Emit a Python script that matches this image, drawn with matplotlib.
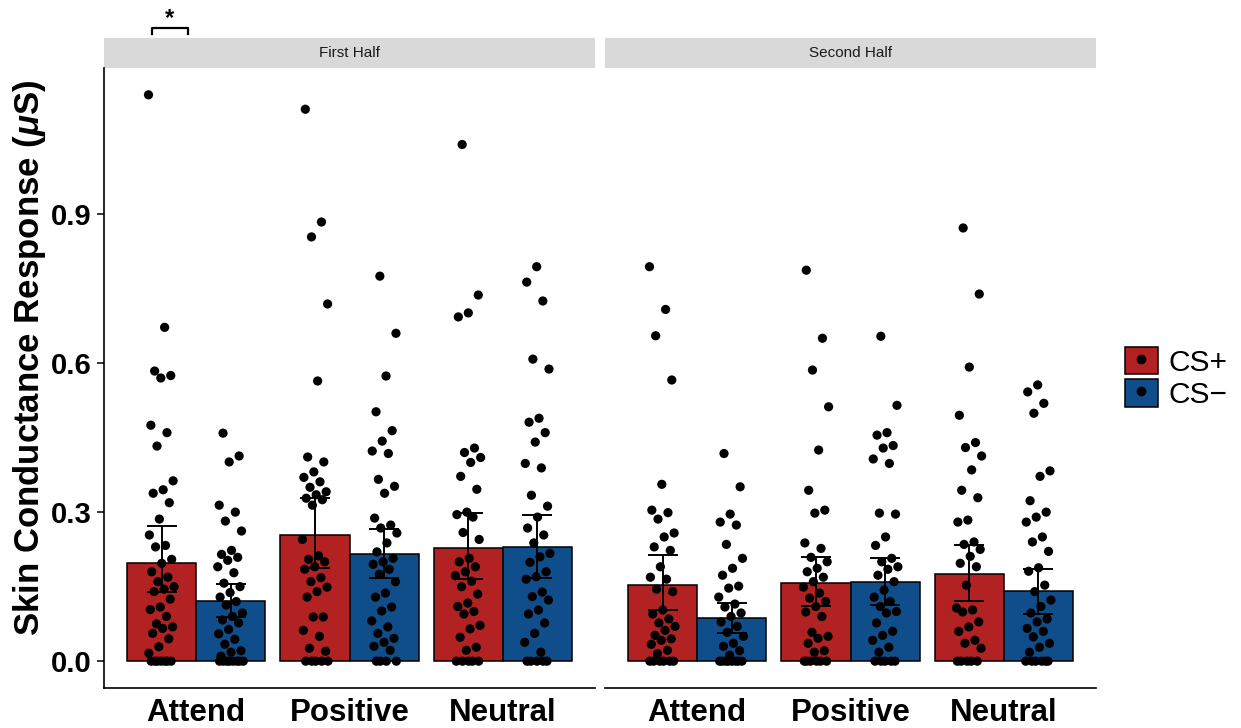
import matplotlib
matplotlib.use('Agg')
import matplotlib.pyplot as plt
from matplotlib.patches import Patch, Rectangle
from matplotlib.lines import Line2D
from matplotlib.transforms import blended_transform_factory
import numpy as np

plt.rcParams['font.family'] = ['Liberation Sans', 'DejaVu Sans']
plt.rcParams['mathtext.fontset'] = 'custom'
plt.rcParams['mathtext.it'] = 'Liberation Sans:bold:italic'
plt.rcParams['mathtext.rm'] = 'Liberation Sans:bold'

categories = ['Attend', 'Positive', 'Neutral']
halves = ['First Half', 'Second Half']
conditions = ['CS+', 'CS\u2212']
bar_colors = ['#B22222', '#104E8B']

# bar means and error-bar ends
first_plus_mean = [0.197, 0.254, 0.228]
first_plus_lo = [0.139, 0.187, 0.165]
first_plus_hi = [0.272, 0.328, 0.298]
first_minus_mean = [0.121, 0.215, 0.230]
first_minus_lo = [0.089, 0.167, 0.167]
first_minus_hi = [0.155, 0.266, 0.294]
second_plus_mean = [0.153, 0.157, 0.175]
second_plus_lo = [0.103, 0.111, 0.121]
second_plus_hi = [0.213, 0.209, 0.234]
second_minus_mean = [0.087, 0.159, 0.141]
second_minus_lo = [0.056, 0.113, 0.095]
second_minus_hi = [0.117, 0.207, 0.185]

# individual participant values
first_attend_plus = [1.14, 0.672, 0.584, 0.575, 0.570, 0.475, 0.460, 0.433, 0.363, 0.345,
                     0.338, 0.319, 0.286, 0.254, 0.233, 0.230, 0.205, 0.197, 0.180, 0.169,
                     0.160, 0.150, 0.145, 0.140, 0.125, 0.109, 0.104, 0.090, 0.075, 0.069,
                     0.066, 0.056, 0.045, 0.029, 0.016, 0, 0, 0, 0, 0, 0, 0]
first_attend_minus = [0.459, 0.413, 0.401, 0.314, 0.300, 0.282, 0.262, 0.223, 0.215, 0.209,
                      0.203, 0.190, 0.178, 0.157, 0.150, 0.138, 0.129, 0.120, 0.113, 0.097,
                      0.090, 0.083, 0.077, 0.064, 0.055, 0.044, 0.034, 0.021, 0.018, 0.010,
                      0, 0, 0, 0, 0, 0, 0, 0]
first_positive_plus = [1.111, 0.884, 0.854, 0.719, 0.564, 0.411, 0.401, 0.381, 0.370, 0.361,
                       0.350, 0.341, 0.335, 0.328, 0.325, 0.314, 0.245, 0.212, 0.205, 0.200,
                       0.190, 0.185, 0.168, 0.160, 0.149, 0.140, 0.129, 0.089, 0.089, 0.062,
                       0.050, 0.026, 0.020, 0, 0, 0, 0, 0]
first_positive_minus = [0.775, 0.660, 0.574, 0.502, 0.464, 0.443, 0.423, 0.418, 0.366, 0.352,
                        0.338, 0.288, 0.274, 0.268, 0.258, 0.238, 0.220, 0.207, 0.200, 0.195,
                        0.185, 0.175, 0.160, 0.137, 0.129, 0.109, 0.101, 0.081, 0.069, 0.056,
                        0.046, 0.038, 0.030, 0.022, 0, 0, 0, 0]
first_neutral_plus = [1.040, 0.737, 0.701, 0.693, 0.429, 0.420, 0.410, 0.400, 0.372, 0.346,
                      0.300, 0.295, 0.290, 0.259, 0.245, 0.207, 0.200, 0.190, 0.180, 0.172,
                      0.161, 0.150, 0.135, 0.117, 0.110, 0.100, 0.095, 0.072, 0.065, 0.048,
                      0.028, 0.022, 0, 0, 0, 0, 0]
first_neutral_minus = [0.794, 0.763, 0.725, 0.608, 0.588, 0.489, 0.481, 0.460, 0.441, 0.398,
                       0.389, 0.334, 0.312, 0.290, 0.268, 0.254, 0.238, 0.217, 0.210, 0.199,
                       0.180, 0.170, 0.165, 0.139, 0.130, 0.123, 0.103, 0.095, 0.077, 0.056,
                       0.038, 0.018, 0, 0, 0, 0, 0]
second_attend_plus = [0.794, 0.708, 0.655, 0.566, 0.356, 0.304, 0.299, 0.286, 0.258, 0.250,
                      0.230, 0.223, 0.190, 0.169, 0.165, 0.145, 0.140, 0.103, 0.095, 0.085,
                      0.077, 0.070, 0.062, 0.052, 0.045, 0.042, 0.034, 0.022, 0.015,
                      0, 0, 0, 0, 0, 0]
second_attend_minus = [0.418, 0.351, 0.296, 0.280, 0.274, 0.235, 0.207, 0.187, 0.173, 0.151,
                       0.147, 0.129, 0.115, 0.109, 0.097, 0.090, 0.079, 0.070, 0.058, 0.050,
                       0.036, 0.030, 0.021, 0.012, 0, 0, 0, 0, 0, 0, 0, 0]
second_positive_plus = [0.787, 0.650, 0.586, 0.512, 0.425, 0.344, 0.304, 0.298, 0.238, 0.227,
                        0.209, 0.200, 0.187, 0.180, 0.169, 0.160, 0.149, 0.137, 0.127, 0.120,
                        0.110, 0.099, 0.090, 0.058, 0.050, 0.046, 0.036, 0.021, 0.018,
                        0, 0, 0, 0, 0, 0]
second_positive_minus = [0.654, 0.515, 0.460, 0.455, 0.434, 0.429, 0.407, 0.398, 0.298, 0.296,
                         0.250, 0.233, 0.207, 0.200, 0.190, 0.185, 0.173, 0.160, 0.143, 0.129,
                         0.120, 0.110, 0.100, 0.097, 0.077, 0.060, 0.052, 0.042, 0.028, 0.018,
                         0, 0, 0, 0, 0]
second_neutral_plus = [0.872, 0.739, 0.592, 0.495, 0.440, 0.430, 0.413, 0.385, 0.344, 0.329,
                       0.284, 0.280, 0.240, 0.235, 0.225, 0.211, 0.197, 0.190, 0.153, 0.107,
                       0.103, 0.099, 0.079, 0.069, 0.060, 0.042, 0.036, 0.026,
                       0, 0, 0, 0, 0]
second_neutral_minus = [0.556, 0.542, 0.519, 0.499, 0.383, 0.372, 0.323, 0.300, 0.290, 0.280,
                        0.250, 0.240, 0.221, 0.188, 0.181, 0.153, 0.140, 0.123, 0.110, 0.097,
                        0.085, 0.079, 0.066, 0.060, 0.049, 0.036, 0.028, 0.018,
                        0, 0, 0, 0, 0, 0]

bar_stats = {
    ('First Half', 0): (first_plus_mean, first_plus_lo, first_plus_hi),
    ('First Half', 1): (first_minus_mean, first_minus_lo, first_minus_hi),
    ('Second Half', 0): (second_plus_mean, second_plus_lo, second_plus_hi),
    ('Second Half', 1): (second_minus_mean, second_minus_lo, second_minus_hi),
}
points = {
    ('First Half', 0): [first_attend_plus, first_positive_plus, first_neutral_plus],
    ('First Half', 1): [first_attend_minus, first_positive_minus, first_neutral_minus],
    ('Second Half', 0): [second_attend_plus, second_positive_plus, second_neutral_plus],
    ('Second Half', 1): [second_attend_minus, second_positive_minus, second_neutral_minus],
}

W, H = 1241, 728
fig = plt.figure(figsize=(W / 100, H / 100), dpi=100)
panel_left = [104, 605]
panel_w = 491
ax_bottom_px, ax_top_px = 688, 68
axes = []
for i, lp in enumerate(panel_left):
    ax = fig.add_axes([lp / W, 1 - ax_bottom_px / H, panel_w / W, (ax_bottom_px - ax_top_px) / H])
    axes.append(ax)

bw = 0.45
xs = np.arange(1, len(categories) + 1)
for pi, (ax, half) in enumerate(zip(axes, halves)):
    for ci in range(2):
        mean, lo, hi = bar_stats[(half, ci)]
        mean = np.array(mean)
        xpos = xs + (ci - 0.5) * bw
        ax.bar(xpos, mean, width=bw, color=bar_colors[ci], edgecolor='black',
               linewidth=1.1, zorder=1)
        yerr = np.vstack([mean - np.array(lo), np.array(hi) - mean])
        ax.errorbar(xpos, mean, yerr=yerr, fmt='none', ecolor='black',
                    elinewidth=1.4, capsize=11, capthick=1.4, zorder=2)
        for k, vals in enumerate(points[(half, ci)]):
            vals = np.array(vals)
            n = len(vals)
            off = ((np.arange(n) * 0.6180339887 + 0.13 * k + 0.21 * ci) % 1 - 0.5) * 0.17
            ax.scatter(xpos[k] + off, vals, s=44, color='black', edgecolors='none',
                       zorder=3, clip_on=False)
    ax.set_xlim(0.4, 3.6)
    ax.set_ylim(-0.054, 1.194)
    ax.set_xticks(xs)
    ax.set_xticklabels(categories, fontsize=22.5, fontweight='bold')
    ax.tick_params(axis='x', length=0, pad=7)
    for s in ['top', 'right']:
        ax.spines[s].set_visible(False)
    ax.spines['bottom'].set_linewidth(1.2)
    ax.spines['left'].set_linewidth(1.2)
    # strip
    ax.add_patch(Rectangle((0, 1.0), 1, 30 / 620, transform=ax.transAxes,
                           facecolor='#D9D9D9', edgecolor='none', clip_on=False))
    ax.text(0.5, 1.0 + 15 / 620, half, transform=ax.transAxes, ha='center',
            va='center', fontsize=11, color='#1a1a1a')
    if pi == 0:
        ax.set_yticks([0.0, 0.3, 0.6, 0.9])
        ax.set_yticklabels(['0.0', '0.3', '0.6', '0.9'], fontsize=21, fontweight='bold')
        ax.tick_params(axis='y', length=5, width=1.1, pad=4)
        ax.set_ylabel(r'Skin Conductance Response ($\mu$S)', fontsize=25,
                      fontweight='bold', va='center', ha='center')
        ax.yaxis.set_label_coords(-0.151, 0.532)
    else:
        ax.spines['left'].set_visible(False)
        ax.set_yticks([])

# significance bracket
ax = axes[0]
tr = blended_transform_factory(ax.transData, ax.transAxes)
y_br = 1 + 40 / 620
y_tk = 1 + 34 / 620
ax.plot([0.713, 0.713, 0.948, 0.948], [y_tk, y_br, y_br, y_tk], color='black',
        lw=1.6, transform=tr, clip_on=False)
ax.text(0.83, 1 + 49 / 620, '*', transform=tr, ha='center', va='center',
        fontsize=17, fontweight='bold')

# legend
handles = [(Patch(facecolor=c, edgecolor='black', linewidth=1.1),
            Line2D([], [], marker='o', color='black', linestyle='', markersize=6))
           for c in bar_colors]
fig.legend(handles, conditions, loc='center left', bbox_to_anchor=(1104 / W, 1 - 378 / H),
           frameon=False, fontsize=21.5, handlelength=1.1, handleheight=1.05,
           labelspacing=0.08, handletextpad=0.35, borderpad=0.2)

fig.savefig('out.png', dpi=100)
